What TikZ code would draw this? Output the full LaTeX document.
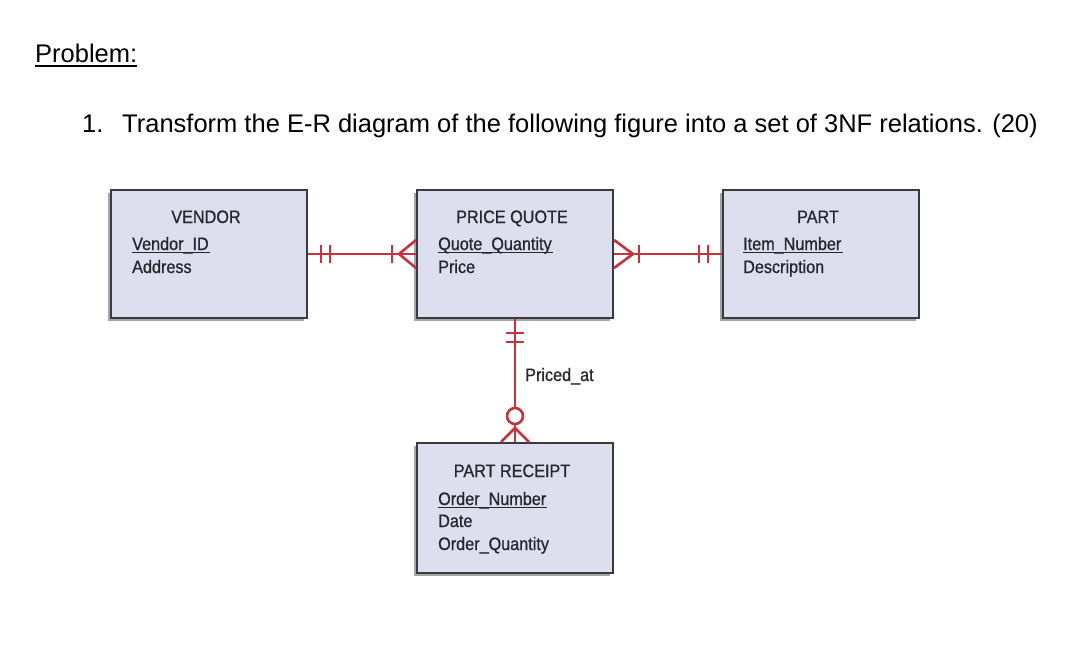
\documentclass[tikz,border=0pt]{standalone}
\usepackage{fontspec}
\setmainfont{Liberation Sans}
\newfontfamily\erfont[FakeStretch=0.9,FakeBold=0.8]{Liberation Sans}
\usetikzlibrary{calc,shadows}
\definecolor{erred}{HTML}{C8323C}
\definecolor{erfill}{HTML}{DDDFEE}
\definecolor{eredge}{HTML}{3A3A44}
\definecolor{ertext}{HTML}{26262E}
\tikzset{
  entity/.style={draw=eredge, line width=2pt, fill=erfill, minimum width=196pt,
    minimum height=128pt, inner sep=0pt,
    drop shadow={shadow xshift=-3pt, shadow yshift=-3pt, fill=gray!70, opacity=1}},
  attr/.style={anchor=base west, inner sep=0pt, text=ertext,
    font=\erfont\fontsize{18}{18}\selectfont},
  head/.style={attr, anchor=base},
  rel/.style={draw=erred, line width=2.6pt},
  keyline/.style={draw=ertext, line width=1.3pt},
}
\begin{document}
\begin{tikzpicture}[x=1pt,y=-1pt]
  \useasboundingbox (0,0) rectangle (1080,645);
  % heading
  \node[anchor=base west, inner sep=0pt, font=\fontsize{25.5}{25.5}\selectfont] (prob) at (35,62) {Problem:};
  \draw[line width=1.5pt] ($(prob.base west)+(0,4)$) -- ($(prob.base east)+(0,4)$);
  \node[anchor=base west, inner sep=0pt, font=\fontsize{25.5}{25.5}\selectfont] (num) at (82,132) {1.};
  \node[anchor=base west, inner sep=0pt, font=\fontsize{25.5}{25.5}\selectfont] (task) at (122,132)
    {Transform the E-R diagram of the following figure into a set of 3NF relations. (20)};

  % entities
  \node[entity] (vendor)  at (209,254) {};
  \node[entity] (quote)   at (515,254) {};
  \node[entity] (part)    at (821,254) {};
  \node[entity, minimum height=130pt] (receipt) at (515,508) {};

  \node[head] (vendorH) at (206,223) {VENDOR};
  \node[attr] (vendorK) at (132,250) {Vendor\_ID};
  \node[attr] (vendorA) at (132,273) {Address};

  \node[head] (quoteH) at (512,223) {PRICE QUOTE};
  \node[attr] (quoteK) at (438,250) {Quote\_Quantity};
  \node[attr] (quoteA) at (438,273) {Price};

  \node[head] (partH) at (818,223) {PART};
  \node[attr] (partK) at (743,250) {Item\_Number};
  \node[attr] (partA) at (743,273) {Description};

  \node[head] (receiptH) at (512,477) {PART RECEIPT};
  \node[attr] (receiptK) at (438,505) {Order\_Number};
  \node[attr] (receiptA) at (438,527) {Date};
  \node[attr] (receiptB) at (438,550) {Order\_Quantity};

  % keys
  \foreach \k in {vendorK,quoteK,partK,receiptK}
    \draw[keyline] ($(\k.base west)+(0,2.5)$) -- ($(\k.base east)+(1,2.5)$);

  % relationships
  \draw[rel] (vendor) -- (quote);
  \draw[rel] (quote) -- (part);
  \draw[rel] (quote) -- (receipt);
  \node[attr] (pricedAt) at (525,381) {Priced\_at};

  % vendor -- quote
  \draw[rel] ($(vendor.east)+(13,-9)$) -- ++(0,18);
  \draw[rel] ($(vendor.east)+(22,-9)$) -- ++(0,18);
  \draw[rel] ($(quote.west)+(-24,-9)$) -- ++(0,18);
  \draw[rel] ($(quote.west)+(0,-14)$) -- ($(quote.west)+(-17,0)$) -- ($(quote.west)+(0,14)$);
  % quote -- part
  \draw[rel] ($(quote.east)+(0,-14)$) -- ($(quote.east)+(19,0)$) -- ($(quote.east)+(0,14)$);
  \draw[rel] ($(quote.east)+(25,-9)$) -- ++(0,18);
  \draw[rel] ($(part.west)+(-23,-9)$) -- ++(0,18);
  \draw[rel] ($(part.west)+(-14,-9)$) -- ++(0,18);
  % quote -- receipt
  \draw[rel] ($(quote.south)+(-9,14)$) -- ++(18,0);
  \draw[rel] ($(quote.south)+(-9,23)$) -- ++(18,0);
  \draw[rel, fill=white] ($(receipt.north)+(0,-26)$) circle[radius=8];
  \draw[rel] ($(receipt.north)+(-14,0)$) -- ($(receipt.north)+(0,-14)$) -- ($(receipt.north)+(14,0)$);
\end{tikzpicture}
\end{document}
